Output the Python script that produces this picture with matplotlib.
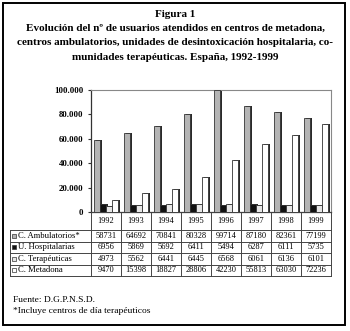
import matplotlib
matplotlib.use("Agg")
import matplotlib.pyplot as plt
import matplotlib.transforms as mtrans
from matplotlib.patches import Rectangle
import numpy as np

years = ["1992", "1993", "1994", "1995", "1996", "1997", "1998", "1999"]
series_names = ["C. Ambulatorios*", "U. Hospitalarias", "C. Terapéuticas", "C. Metadona"]
ambulatorios = [58731, 64692, 70841, 80328, 99714, 87180, 82361, 77199]
hospitalarias = [6956, 5869, 5692, 6411, 5494, 6287, 6111, 5735]
terapeuticas = [4973, 5562, 6441, 6445, 6568, 6061, 6136, 6101]
metadona = [9470, 15398, 18827, 28806, 42230, 55813, 63030, 72236]
yticks = [0, 20000, 40000, 60000, 80000, 100000]
ytick_labels = ["0", "20.000", "40.000", "60.000", "80.000", "100.000"]

title_lines = ["Figura 1",
               "Evolución del nº de usuarios atendidos en centros de metadona,",
               "centros ambulatorios, unidades de desintoxicación hospitalaria, co-",
               "munidades terapéuticas. España, 1992-1999"]
footer_lines = ["Fuente: D.G.P.N.S.D.", "*Incluye centros de día terapéuticos"]

W, H = 350, 331
fig = plt.figure(figsize=(W / 100, H / 100), dpi=100)
fig.patch.set_facecolor("white")
SERIF = ["Liberation Serif", "DejaVu Serif"]

def fx(p):
    return p / W

def fy(p):
    return 1 - p / H

# outer frame
fig.add_artist(Rectangle((fx(2.5), fy(325)), fx(345) - fx(2.5), fy(3) - fy(325),
                         transform=fig.transFigure, fill=False, lw=1.4, ec="black"))

# title
for i, line in enumerate(title_lines):
    fig.text(0.5, fy(14.5 + i * 14.2), line, ha="center", va="center",
             fontsize=8.0, fontweight="bold", family=SERIF)

ax_l, ax_r, ax_t, ax_b = 91, 331, 90, 212
ax = fig.add_axes([fx(ax_l), fy(ax_b), fx(ax_r) - fx(ax_l), fy(ax_t) - fy(ax_b)])
ax.set_facecolor("white")

data = [ambulatorios, hospitalarias, terapeuticas, metadona]
colors = ["#b4b4b4", "#111111", "#e6e6e6", "#ffffff"]
offsets = [-0.3, -0.1, 0.1, 0.3]
bw = 0.18
x = np.arange(len(years))
for vals, c, off in zip(data, colors, offsets):
    # shadow (3D effect)
    ax.bar(x + off + 0.06, vals, width=bw, color="#2a2a2a", edgecolor="none", zorder=2)
    ax.bar(x + off, vals, width=bw, color=c, edgecolor="#333333", linewidth=0.6, zorder=3)

ax.set_xlim(-0.5, len(years) - 0.5)
ax.set_ylim(0, 100000)
ax.set_yticks(yticks)
ax.set_yticklabels(ytick_labels, family=SERIF, fontsize=6.3, fontweight="bold")
ax.set_xticks([])
ax.tick_params(axis="y", length=2.5, width=0.8, pad=3, color="#333333")
for s in ["top", "right"]:
    ax.spines[s].set_color("#888888")
    ax.spines[s].set_linewidth(0.8)
ax.spines["left"].set_color("#333333")
ax.spines["bottom"].set_color("#333333")
ax.spines["left"].set_linewidth(0.9)
ax.spines["bottom"].set_linewidth(0.9)

# data table
tr = mtrans.blended_transform_factory(ax.transData, fig.transFigure)
row_edges = [212, 230, 241.5, 253, 264.5, 276]
lab_left = 10
lc = "#444444"
lw = 0.7
for i in range(len(years) + 1):
    fig.add_artist(plt.Line2D([i - 0.5, i - 0.5], [fy(row_edges[0]), fy(row_edges[-1])],
                              transform=tr, color=lc, lw=lw))
fig.add_artist(plt.Line2D([fx(ax_l), fx(ax_r)], [fy(row_edges[0])] * 2,
                          transform=fig.transFigure, color=lc, lw=lw))
for e in row_edges[1:]:
    fig.add_artist(plt.Line2D([fx(lab_left), fx(ax_r)], [fy(e)] * 2,
                              transform=fig.transFigure, color=lc, lw=lw))
fig.add_artist(plt.Line2D([fx(lab_left)] * 2, [fy(row_edges[1]), fy(row_edges[-1])],
                          transform=fig.transFigure, color=lc, lw=lw))

yc = (row_edges[0] + row_edges[1]) / 2
for i, yr in enumerate(years):
    fig.text(i, fy(yc), yr, transform=tr, ha="center", va="center",
             fontsize=6, family=SERIF)

for r, (name, vals, c) in enumerate(zip(series_names, data, colors)):
    yc = (row_edges[r + 1] + row_edges[r + 2]) / 2
    fig.add_artist(Rectangle((fx(lab_left + 2), fy(yc + 2.2)), fx(4.4), fy(0) - fy(4.4),
                             transform=fig.transFigure, fc=c, ec="#333333", lw=0.5))
    fig.text(fx(lab_left + 8), fy(yc), name, ha="left", va="center",
             fontsize=6.2, family=SERIF)
    for i, v in enumerate(vals):
        fig.text(i, fy(yc), str(v), transform=tr, ha="center", va="center",
                 fontsize=6, family=SERIF)

# footer
fig.text(fx(13), fy(300), footer_lines[0], ha="left", va="center", fontsize=6.8, family=SERIF)
fig.text(fx(13), fy(311), footer_lines[1], ha="left", va="center", fontsize=6.8, family=SERIF)

fig.savefig("out.png", dpi=100, facecolor="white")
